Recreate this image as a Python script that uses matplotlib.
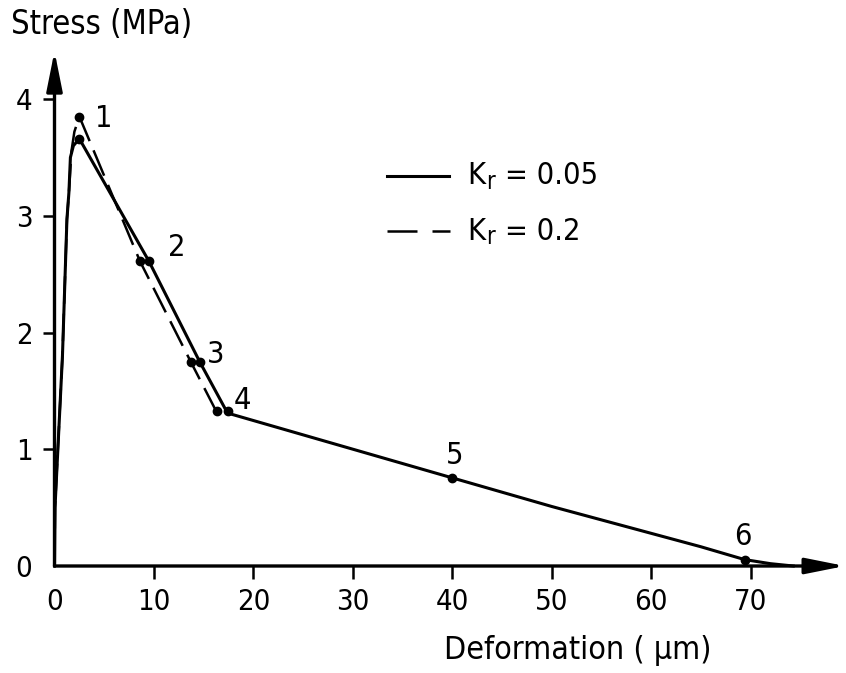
import matplotlib.pyplot as plt

plt.rcParams['font.family'] = ['DejaVu Sans']
plt.rcParams['font.stretch'] = 'condensed'

# Kr = 0.05 (solid curve)
def_solid = [0, 0.05, 0.8, 1.25, 1.45, 1.6, 1.9, 2.5, 9.5, 14.6, 17.4, 40.0, 50.0, 60.0, 65.0, 69.4, 72.0, 74.3]
stress_solid = [0, 0.5, 1.8, 2.97, 3.2, 3.5, 3.6, 3.66, 2.61, 1.75, 1.31, 0.755, 0.51, 0.28, 0.165, 0.055, 0.02, 0]

# Kr = 0.2 (dashed curve, joins the solid one at stage 4)
def_dashed = [0, 0.05, 0.8, 1.25, 1.45, 1.7, 2.0, 2.5, 8.6, 13.7, 16.3]
stress_dashed = [0, 0.5, 1.8, 2.97, 3.2, 3.55, 3.72, 3.85, 2.61, 1.75, 1.32]

# numbered stages
stage_labels = ['1', '2', '3', '4', '5', '6']
stage_def_solid = [2.5, 9.5, 14.6, 17.4, 40.0, 69.4]
stage_stress_solid = [3.66, 2.61, 1.75, 1.33, 0.755, 0.055]
stage_def_dashed = [2.5, 8.6, 13.7, 16.3]
stage_stress_dashed = [3.85, 2.61, 1.75, 1.33]

xticks = [0, 10, 20, 30, 40, 50, 60, 70]
yticks = [0, 1, 2, 3, 4]

W, H = 846, 673
fig = plt.figure(figsize=(W / 100, H / 100), dpi=100)
ax = fig.add_axes([54.5 / W, (H - 566) / H, 790.5 / W, 519.5 / H])
ax.set_xlim(0, 79.5)
ax.set_ylim(0, 4.45)
for s in ax.spines.values():
    s.set_visible(False)

# axes drawn as arrows
arrow = dict(arrowstyle='-|>,head_length=24,head_width=4.8', mutation_scale=1,
             lw=2.4, color='black', shrinkA=0, shrinkB=0)
ax.annotate('', xy=(0, 4.41), xytext=(0, 0), arrowprops=arrow)
ax.annotate('', xy=(79.5, 0), xytext=(0, 0), arrowprops=arrow)

ax.set_xticks(xticks)
ax.set_yticks(yticks)
ax.tick_params(direction='out', length=9, width=1.8, labelsize=21, pad=7, color='black')
ax.xaxis.get_major_ticks()[0].tick1line.set_visible(False)
ax.yaxis.get_major_ticks()[0].tick1line.set_visible(False)

ax.plot(def_solid, stress_solid, color='black', lw=2.2, solid_joinstyle='round', clip_on=False)
ax.plot(def_dashed, stress_dashed, color='black', lw=1.8, dashes=(11, 4), clip_on=False)
ax.plot(stage_def_solid, stage_stress_solid, 'o', color='black', ms=6)
ax.plot(stage_def_dashed, stage_stress_dashed, 'o', color='black', ms=6)

# stage numbers
label_pos = [(4.9, 3.83), (12.3, 2.73), (16.2, 1.81), (18.9, 1.42), (40.2, 0.95), (69.2, 0.25)]
for lab, (lx, ly) in zip(stage_labels, label_pos):
    ax.text(lx, ly, lab, fontsize=22, ha='center', va='center')

# axis titles
fig.text(11 / W, 1 - 25 / H, 'Stress (MPa)', fontsize=23.5, ha='left', va='center')
fig.text(444 / W, 1 - 650 / H, 'Deformation ( μm)', fontsize=23, ha='left', va='center')

# key
fig.add_artist(plt.Line2D([387 / W, 449 / W], [1 - 176 / H, 1 - 176 / H], color='black', lw=2.2))
fig.add_artist(plt.Line2D([387 / W, 450 / W], [1 - 231 / H, 1 - 231 / H], color='black', lw=1.8,
                          dashes=(12, 6)))
for ky, val in [(176, '= 0.05'), (231, '= 0.2')]:
    fig.text(467 / W, 1 - ky / H, 'K', fontsize=22, ha='left', va='center')
    fig.text(486 / W, 1 - (ky + 6) / H, 'r', fontsize=17, ha='left', va='center')
    fig.text(505 / W, 1 - ky / H, val, fontsize=22, ha='left', va='center')

fig.savefig('out.png', dpi=100)
